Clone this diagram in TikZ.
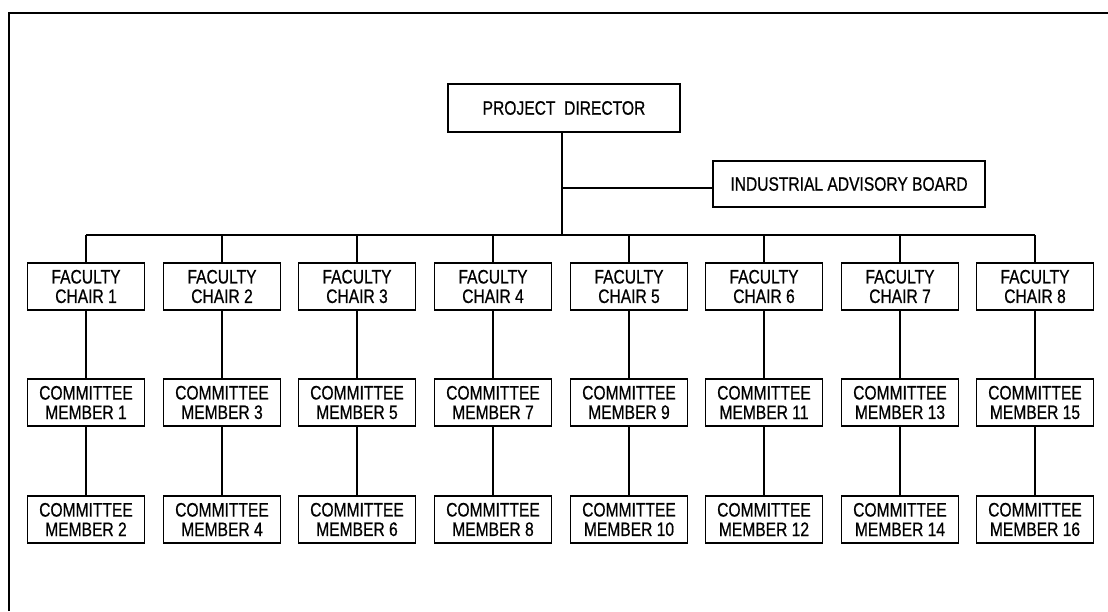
\documentclass[tikz,border=0pt]{standalone}
\usepackage{fontspec}
\setmainfont{Liberation Sans}[FakeStretch=0.8,FakeBold=0.6]
\begin{document}
\begin{tikzpicture}[x=1pt,y=-1pt,
  line width=1.3pt,
  box/.style={draw, line width=1.3pt, inner sep=0pt, minimum width=117pt, minimum height=47pt,
    align=center, font=\fontsize{19.5}{19.5}\selectfont},
  topbox/.style={draw, line width=1.3pt, inner sep=0pt, align=center,
    font=\fontsize{19.5}{19.5}\selectfont}]
\useasboundingbox (0,0) rectangle (1108,611);
% frame (top and left edges)
\draw[line width=1.5pt] (9,611) -- (9,13) -- (1108,13);
% top
\node[topbox, minimum width=232pt, minimum height=48pt] (pd) at (564,108) {PROJECT\ \ DIRECTOR};
\node[topbox, minimum width=272pt, minimum height=46pt] (iab) at (849,184) {INDUSTRIAL ADVISORY BOARD};
\coordinate (stem) at (562,132);
\coordinate (bus) at (562,235);
\coordinate (iabj) at (562,188);
\coordinate (iabw) at (713,188);
\draw (stem) -- (bus);
\draw (iabj) -- (iabw);
% columns
\foreach \cx [count=\i] in {86,222,357,493,629,764,900,1035}{
  \pgfmathtruncatemacro{\ma}{2*\i-1}
  \pgfmathtruncatemacro{\mb}{2*\i}
  \node[box] (fc\i) at (\cx,286.5) {FACULTY\\CHAIR \i};
  \node[box] (ma\i) at (\cx,402.5) {COMMITTEE\\MEMBER \ma};
  \node[box] (mb\i) at (\cx,519.5) {COMMITTEE\\MEMBER \mb};
  \coordinate (b\i) at (\cx,235);
  \draw (b\i) -- (fc\i.north);
  \draw (fc\i.south) -- (ma\i.north);
  \draw (ma\i.south) -- (mb\i.north);
}
\draw (b1) -- (b8);
\end{tikzpicture}
\end{document}
